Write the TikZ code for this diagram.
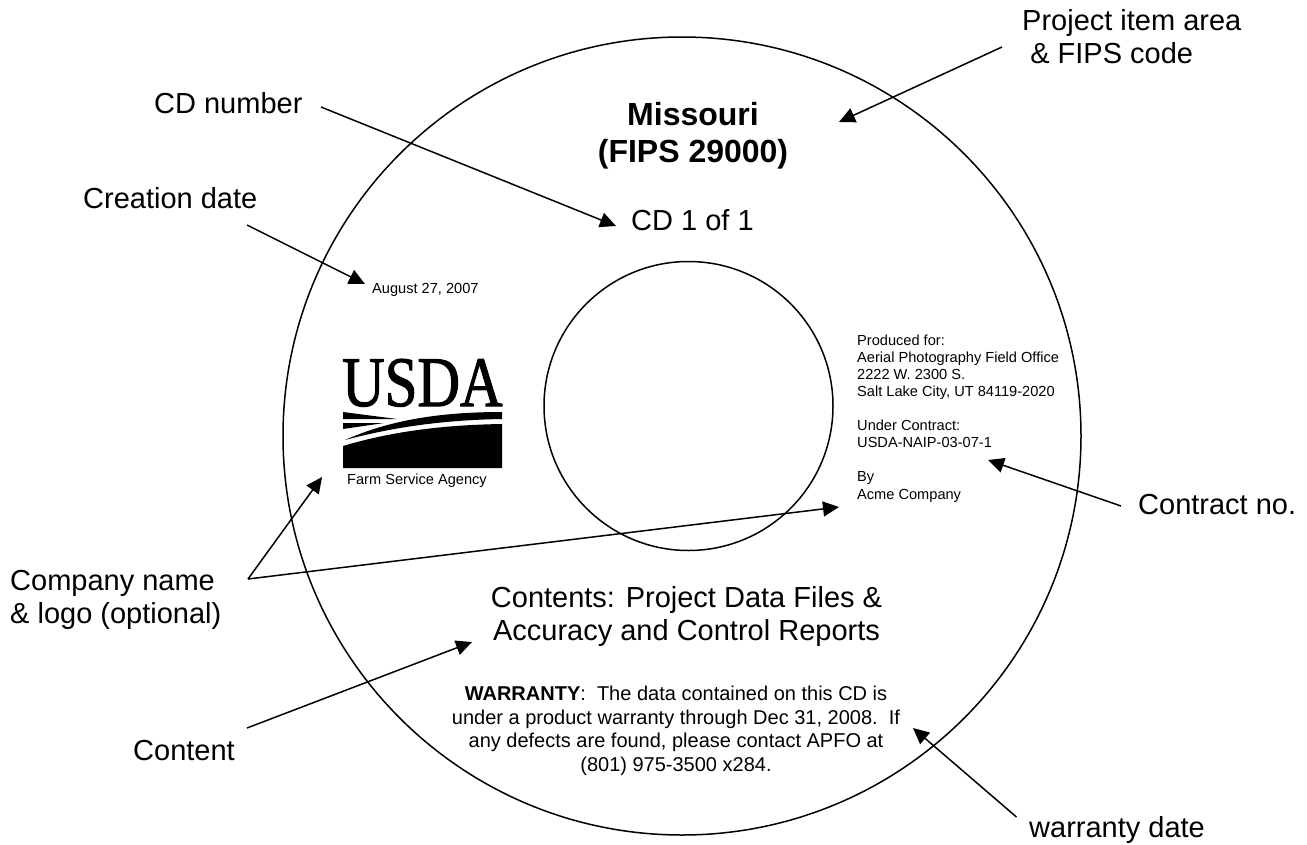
\documentclass[tikz,border=0pt]{standalone}
\usepackage{fontspec}
\setmainfont{Liberation Sans}
\newfontfamily\logofont[FakeBold=1.6]{Liberation Serif}
\usetikzlibrary{arrows.meta}
\tikzset{
  x=1pt,y=-1pt,
  pointer/.style={draw=black,line width=1.5pt,-{Triangle[length=16pt,width=15pt]},shorten >=0pt},
  ring/.style={draw=black,line width=1.5pt,circle,inner sep=0pt},
  lab/.style={font=\fontsize{29}{33}\selectfont,align=left,inner sep=0pt,anchor=base west},
  big/.style={font=\fontsize{29}{32.5}\selectfont,align=center,inner sep=0pt},
  tiny/.style={font=\fontsize{14.6}{17.05}\selectfont,align=left,inner sep=0pt,anchor=base west},
  warn/.style={font=\fontsize{20}{23.35}\selectfont,align=center,inner sep=0pt},
  head/.style={font=\fontsize{32}{37}\selectfont\bfseries,align=center,inner sep=0pt}
}
\begin{document}
\begin{tikzpicture}
\useasboundingbox (0,0) rectangle (1307,844);
\node[ring,minimum size=798pt] (outer) at (682,436) {};
\node[ring,minimum size=289pt] (inner) at (688.5,406) {};
% texts on the disc
\node[head,anchor=base] (state) at (693,162) {Missouri\\(FIPS 29000)};
\node[big,anchor=base west] (cd) at (631,230) {CD 1 of 1};
\node[tiny] (date) at (372,293) {August 27, 2007};
\node[tiny] (fsa) at (347,484) {Farm Service Agency};
\node[tiny] (prod) at (857,499) {Produced for:\\Aerial Photography Field Office\\2222 W. 2300 S.\\Salt Lake City, UT 84119-2020\\[17.05pt]Under Contract:\\USDA-NAIP-03-07-1\\[17.05pt]By\\Acme Company};
\node[big,anchor=base] (contents) at (686.5,640) {Contents: Project Data Files \&\\Accuracy and Control Reports};
\node[warn,anchor=base] (warranty) at (676,771) {\textbf{WARRANTY}:\ \ The data contained on this CD is\\under a product warranty through Dec 31, 2008.\ \ If\\any defects are found, please contact APFO at\\(801) 975-3500 x284.};
% USDA logo
\node[font=\fontsize{71}{71}\selectfont\logofont,inner sep=0pt,anchor=base west,xscale=0.83] (usda) at (342,406) {USDA};
\fill (343,412) -- (343,419) -- (397,419) -- cycle;
\fill (343,423) -- (343,429) -- (384,423) -- cycle;
\fill (345,440) .. controls (390,420) and (440,412) .. (502,412) -- (502,419) .. controls (440,420) and (390,428) .. (345,440) -- cycle;
\fill (343,446) .. controls (390,432) and (440,425) .. (502,424) -- (502,468) -- (343,468) -- cycle;
% labels outside the disc
\node[lab] (lproj) at (1022,63) {Project item area\\\ \&\ FIPS code};
\node[lab] (lcd) at (154,113) {CD number};
\node[lab] (ldate) at (83,208) {Creation date};
\node[lab] (lcomp) at (10,623) {Company name\\\&\ logo (optional)};
\node[lab] (lcontr) at (1138,514) {Contract no.};
\node[lab] (lcontent) at (133,760) {Content};
\node[lab] (lwarr) at (1029,837) {warranty date};
% connector ends
\coordinate (sproj) at (1002,47);  \coordinate (tproj) at (839,122);
\coordinate (scd) at (321,107);    \coordinate (tcd) at (616,226);
\coordinate (sdate) at (247,225);  \coordinate (tdate) at (365,284);
\coordinate (jn) at (248,579);     \coordinate (tlogo) at (322,477);
\coordinate (tname) at (839,507);
\coordinate (scontr) at (1121,506); \coordinate (tcontr) at (988,460);
\coordinate (scontent) at (247,728); \coordinate (tcontent) at (472,642);
\coordinate (swarr) at (1016.5,817); \coordinate (twarr) at (913,728);
\draw[pointer] (sproj) -- (tproj);
\draw[pointer] (scd) -- (tcd);
\draw[pointer] (sdate) -- (tdate);
\draw[pointer] (jn) -- (tlogo);
\draw[pointer] (jn) -- (tname);
\draw[pointer] (scontr) -- (tcontr);
\draw[pointer] (scontent) -- (tcontent);
\draw[pointer] (swarr) -- (twarr);
\end{tikzpicture}
\end{document}
